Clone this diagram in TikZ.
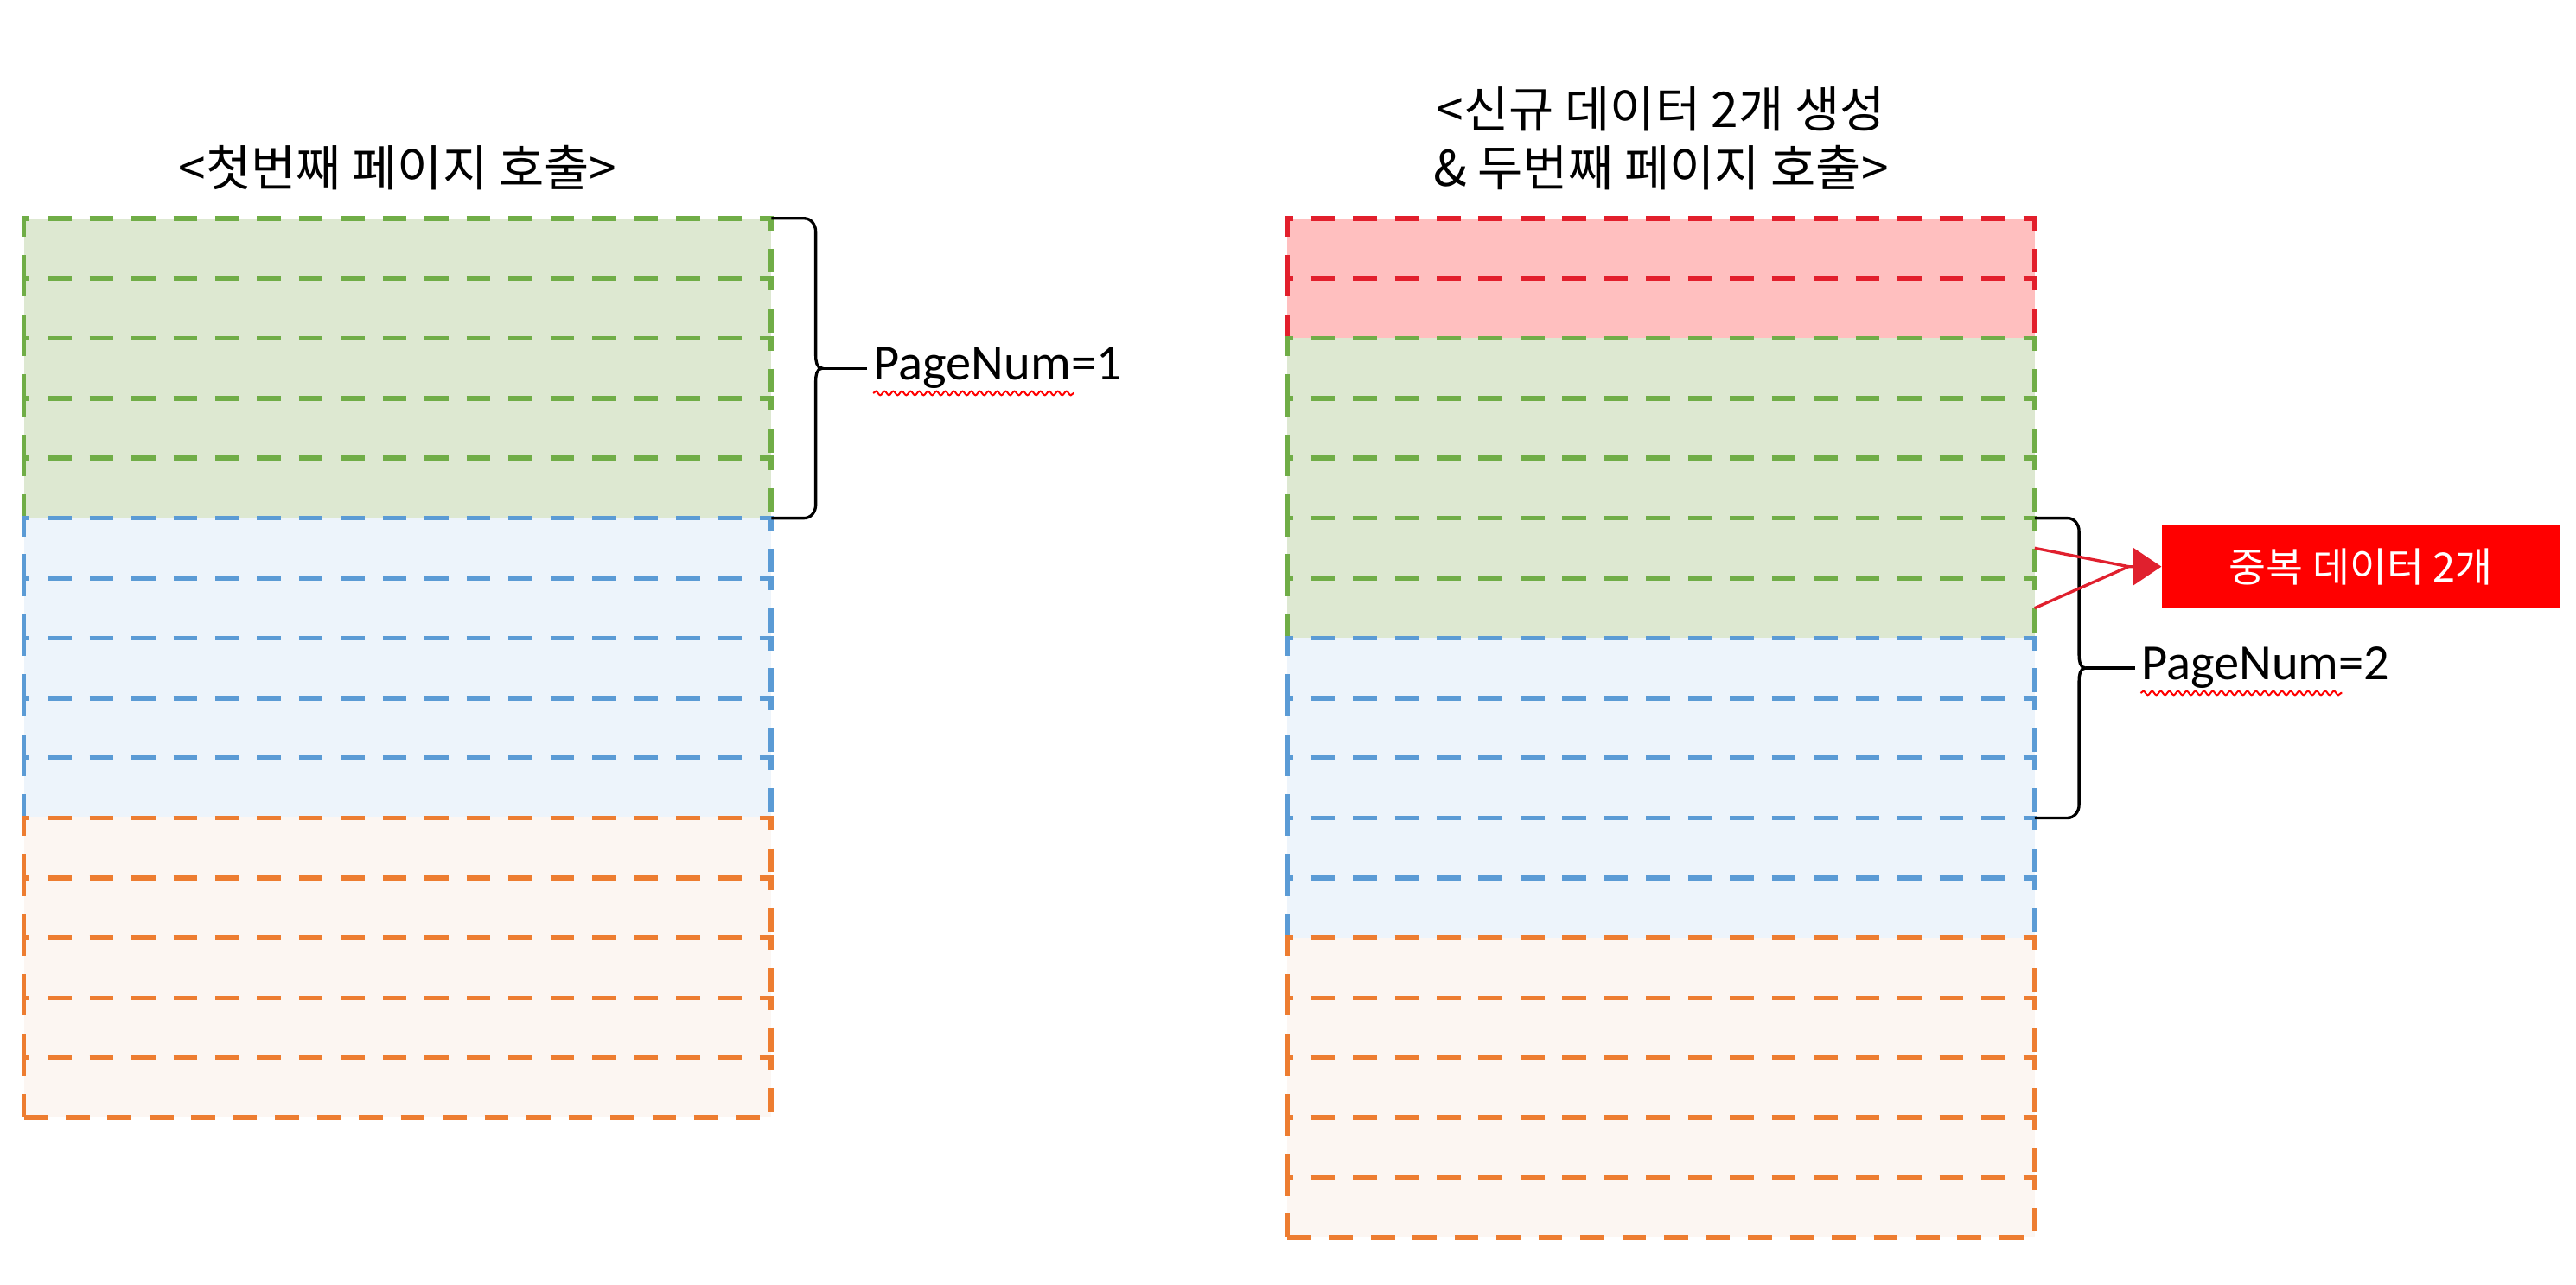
\documentclass[tikz,border=0pt]{standalone}
\usepackage{fontspec}
\setmainfont{Carlito}
\newfontfamily\kr{Noto Sans CJK KR}
\usetikzlibrary{positioning,calc,arrows.meta,decorations.pathmorphing}

\definecolor{linegr}{HTML}{70AD47}
\definecolor{fillgr}{HTML}{DDE8D1}
\definecolor{linebl}{HTML}{5B9BD5}
\definecolor{fillbl}{HTML}{EDF4FB}
\definecolor{lineor}{HTML}{ED7D31}
\definecolor{fillor}{HTML}{FCF6F2}
\definecolor{linerd}{HTML}{E21F2C}
\definecolor{fillrd}{HTML}{FFBFBF}
\definecolor{dupred}{HTML}{FF0000}
\definecolor{arrowred}{HTML}{E0202E}

\begin{document}
\begin{tikzpicture}[
  row/.style = {minimum width=9.1cm, minimum height=0.73cm, inner sep=0, outer sep=0},
  edge/.style = {line width=1.7pt, dash pattern=on 0.29cm off 0.22cm},
  title/.style = {font=\kr\fontsize{17}{20.5}\selectfont, align=center},
  bracket/.style = {line width=1pt},
  pagenum/.style = {font=\fontsize{17.5}{21}\selectfont, inner xsep=2pt},
  squiggle/.style = {red, line width=0.6pt, decorate, decoration={snake, amplitude=0.7pt, segment length=3pt}},
  dup/.style = {fill=dupred, text=white, font=\kr\fontsize{14}{17}\selectfont, minimum width=4.84cm, minimum height=1cm},
  pointer/.style = {arrowred, line width=1pt}
]
\useasboundingbox (0,0) rectangle (31.36,15.64);

% first page call
\foreach \i/\c in {1/gr,2/gr,3/gr,4/gr,5/gr,6/bl,7/bl,8/bl,9/bl,10/bl,11/or,12/or,13/or,14/or,15/or}
  \node[row, fill=fill\c] (L\i) at (4.84, 13.345-0.73*\i) {};
\foreach \i/\c in {1/gr,2/gr,3/gr,4/gr,5/gr,6/bl,7/bl,8/bl,9/bl,10/bl,11/or,12/or,13/or,14/or,15/or}
  \draw[edge, line\c] (L\i.south west) |- (L\i.north east) -- (L\i.south east);
\draw[edge, lineor] (L15.south west) -- (L15.south east);

% new data + second page call
\foreach \i/\c in {1/rd,2/rd,3/gr,4/gr,5/gr,6/gr,7/gr,8/bl,9/bl,10/bl,11/bl,12/bl,13/or,14/or,15/or,16/or,17/or}
  \node[row, fill=fill\c] (R\i) at (20.22, 13.345-0.73*\i) {};
\foreach \i/\c in {1/rd,2/rd,3/gr,4/gr,5/gr,6/gr,7/gr,8/bl,9/bl,10/bl,11/bl,12/bl,13/or,14/or,15/or,16/or,17/or}
  \draw[edge, line\c] (R\i.south west) |- (R\i.north east) -- (R\i.south east);
\draw[edge, lineor] (R17.south west) -- (R17.south east);

\node[title, above=0.22cm of L1] (t1) {<첫번째 페이지 호출>};
\node[title, above=0.22cm of R1] (t2) {<신규 데이터 2개 생성\\\& 두번째 페이지 호출>};

% braces
\coordinate (m1) at ($(L1.north east)!0.5!(L5.south east)$);
\draw[bracket] (L1.north east) -- ++(0.4,0) to[out=0,in=90] ++(0.14,-0.16)
  -- ($(m1)+(0.54,0.16)$) to[out=-90,in=180] ($(m1)+(0.62,0)$) coordinate (c1)
  to[out=180,in=90] ($(m1)+(0.54,-0.16)$) -- ($(L5.south east)+(0.54,0.16)$)
  to[out=-90,in=0] ++(-0.14,-0.16) -- (L5.south east);
\node[pagenum, right=0.55cm of c1] (p1) {PageNum=1};
\draw[bracket] (c1) -- (p1.west);
\draw[squiggle] ([xshift=2pt,yshift=-4.5pt]p1.base west) -- ++(2.45,0);

\coordinate (m2) at ($(R6.north east)!0.5!(R10.south east)$);
\draw[bracket] (R6.north east) -- ++(0.4,0) to[out=0,in=90] ++(0.14,-0.16)
  -- ($(m2)+(0.54,0.16)$) to[out=-90,in=180] ($(m2)+(0.62,0)$) coordinate (c2)
  to[out=180,in=90] ($(m2)+(0.54,-0.16)$) -- ($(R10.south east)+(0.54,0.16)$)
  to[out=-90,in=0] ++(-0.14,-0.16) -- (R10.south east);
\node[pagenum, right=0.6cm of c2] (p2) {PageNum=2};
\draw[bracket] (c2) -- (p2.west);
\draw[squiggle] ([xshift=2pt,yshift=-4.5pt]p2.base west) -- ++(2.45,0);

% duplicated rows
\node[dup] (dup) at (28.74, 8.74) {중복 데이터 2개};
\coordinate (mg) at ($(dup.west)+(-0.4,0)$);
\draw[pointer] (R6.east) -- (mg);
\draw[pointer, -{Triangle[length=0.35cm,width=0.46cm]}] (R7.east) -- (mg) -- (dup.west);
\end{tikzpicture}
\end{document}
